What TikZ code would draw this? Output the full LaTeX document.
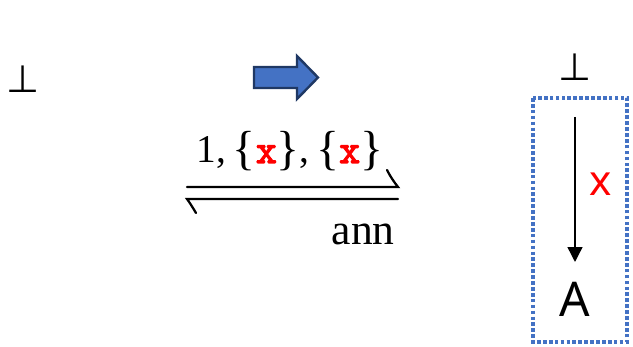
\documentclass[tikz,border=0pt]{standalone}
\usepackage{fontspec}
\setmainfont{Liberation Serif}
\setsansfont{Noto Sans}
\newfontfamily\codefont{Latin Modern Mono}[FakeBold=3]
\newfontfamily\symfont{DejaVu Sans}
\usetikzlibrary{arrows.meta,positioning}
\definecolor{boxblue}{HTML}{4472C4}
\definecolor{navyline}{HTML}{1F3864}
\newcommand{\bigbrace}[1]{{\fontsize{34}{34}\selectfont\raisebox{-1pt}{#1}}}
\newcommand{\redvar}{\textcolor{red}{\codefont\fontsize{29}{29}\selectfont x}}

\begin{document}
\begin{tikzpicture}[x=0.025cm, y=-0.025cm,
    bottomsym/.style={font=\symfont\fontsize{27}{27}\selectfont, inner sep=0pt},
    rellabel/.style={font=\fontsize{28}{30}\selectfont, inner sep=0pt},
    statelabel/.style={font=\sffamily\fontsize{34}{34}\selectfont, inner sep=0pt},
    harp/.style={line width=1.6pt, line cap=round}]
    \useasboundingbox (0,0) rectangle (633,347);

    % Bottoms
    \node[bottomsym] (botL) at (23,79) {⊥};
    \node[bottomsym] (botR) at (575,67) {⊥};

    % Step arrow
    \draw[line width=1.7pt, draw=navyline, fill=boxblue]
        (254,67) -- (297,67) -- (297,56) -- (318,77.5) -- (297,99) -- (297,88) -- (254,88) -- cycle;

    % Relation
    \node[rellabel, anchor=base] (fwd) at (290,163)
        {1,\,\bigbrace{\{}\redvar\bigbrace{\}},\,\bigbrace{\{}\redvar\bigbrace{\}}};
    \node[rellabel, anchor=base east, font=\fontsize{31}{31}\selectfont] (bwd) at (395,245) {ann};
    \coordinate (fwdL) at (187,187);
    \coordinate (fwdR) at (398,187);
    \coordinate (bwdL) at (187,199);
    \coordinate (bwdR) at (398,199);
    \draw[harp] (fwdL) -- (fwdR) .. controls (394,182) and (390,176) .. (387,170);
    \draw[harp] (bwdR) -- (bwdL) .. controls (190,203) and (193,208) .. (196,213);

    % Abstract state
    \draw[boxblue, line width=2.6pt, dash pattern=on 2.6pt off 1.6pt] (533,98) rectangle (627,342);
    \node[statelabel, anchor=base] (A) at (575,317) {A};
    \coordinate (src) at (575,117);
    \coordinate (dst) at (575,262);
    \draw[line width=1pt, -{Triangle[width=10.6pt, length=10.6pt]}] (src) -- (dst);
    \node[statelabel, anchor=base, text=red, font=\sffamily\fontsize{30}{30}\selectfont] (xlbl) at (601,196) {x};
\end{tikzpicture}
\end{document}
